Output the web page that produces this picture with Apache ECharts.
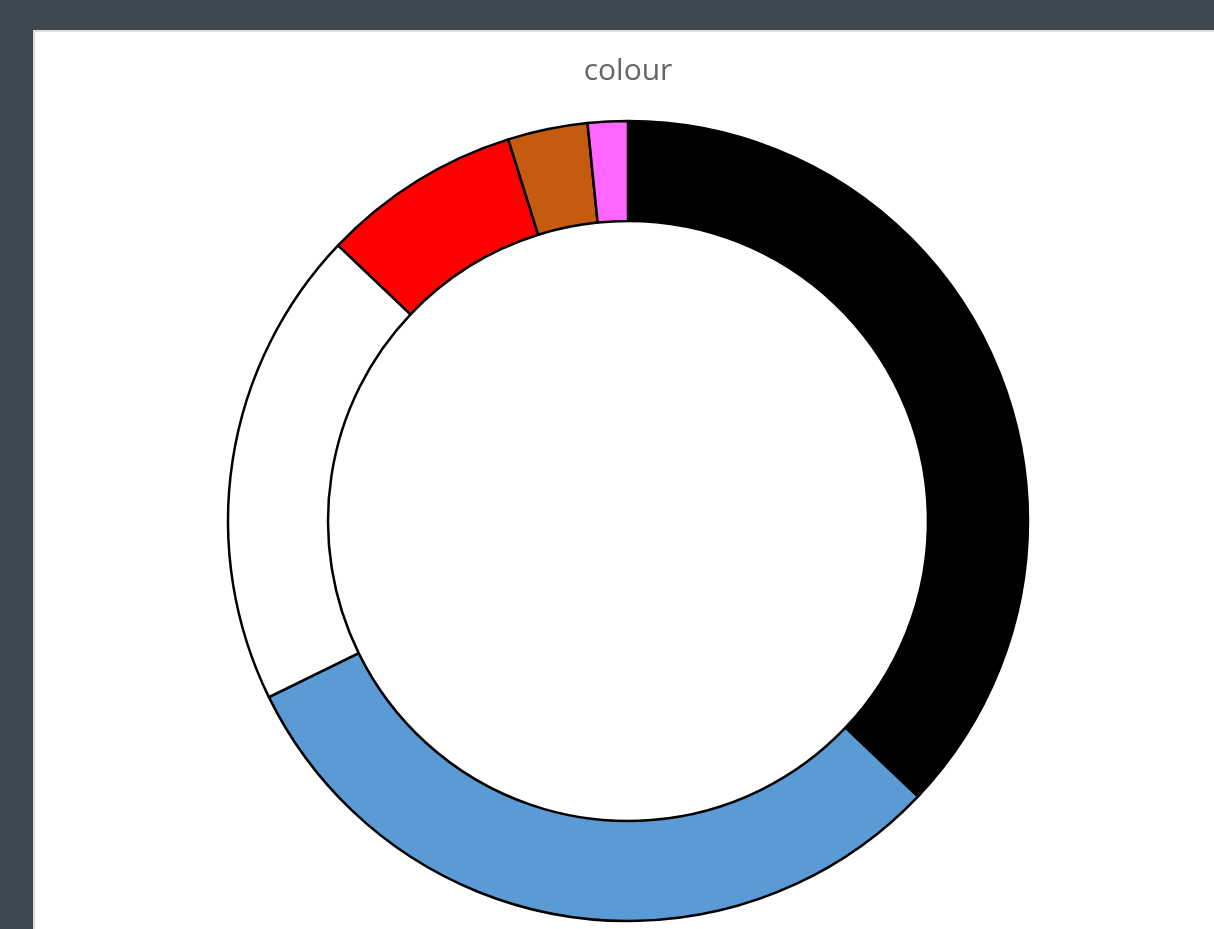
<!DOCTYPE html>
<html>
<head>
<meta charset="utf-8">
<script src="https://cdn.jsdelivr.net/npm/echarts@6/dist/echarts.min.js"></script>
<style>
  html, body { margin: 0; padding: 0; width: 1214px; height: 929px; overflow: hidden;
    background: #3e4850; }
  #panel { position: absolute; left: 33px; top: 30px; width: 1190px; height: 920px;
    background: #ffffff; border-top: 2px solid #d9dcde; border-left: 2px solid #d9dcde; box-sizing: border-box; }
  #chart { position: absolute; left: 0; top: 0; width: 1186px; height: 918px; }
</style>
</head>
<body>
<div id="panel"><div id="chart"></div></div>
<script>
const titleText = "colour";
const categories = ["black", "blue", "white", "red", "orange", "pink"];
const counts = [23, 19, 12, 5, 2, 1];
const sliceColors = ["#000000", "#5b9bd5", "#ffffff", "#ff0000", "#c55a11", "#ff66ff"];

const chart = echarts.init(document.getElementById('chart'), null, { renderer: 'canvas' });
chart.setOption({
  animation: false,
  title: {
    text: titleText,
    left: 'center',
    top: 19,
    textStyle: { fontFamily: 'Open Sans', fontSize: 30, fontWeight: 'normal', color: '#666666' }
  },
  series: [{
    type: 'pie',
    center: [593, 489],
    radius: [300, 400],
    startAngle: 90,
    clockwise: true,
    avoidLabelOverlap: false,
    label: { show: false },
    labelLine: { show: false },
    emphasis: { disabled: true },
    silent: true,
    itemStyle: { borderColor: '#000000', borderWidth: 2.5 },
    data: categories.map((c, i) => ({ name: c, value: counts[i], itemStyle: { color: sliceColors[i] } }))
  }]
});
</script>
</body>
</html>
